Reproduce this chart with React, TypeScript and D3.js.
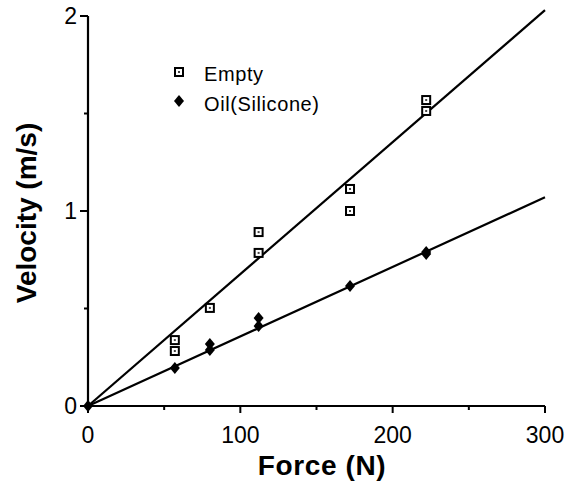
import React from "react";
import * as d3 from "d3";

const forceEmpty = [0, 57, 57, 80, 112, 112, 172, 172, 222, 222];
const velEmpty = [0, 0.338, 0.282, 0.503, 0.892, 0.785, 1.113, 1.0, 1.569, 1.513];
const forceOil = [0, 57, 80, 80, 112, 112, 172, 222, 222];
const velOil = [0, 0.195, 0.318, 0.287, 0.451, 0.41, 0.615, 0.79, 0.78];
const fitEmptyX = [0, 300];
const fitEmptyY = [0, 2.03];
const fitOilX = [0, 300];
const fitOilY = [0, 1.07];
const xMajor = [0, 100, 200, 300];
const xMinor = [50, 150, 250];
const yMajor = [0, 1, 2];
const yMinor = [0.5, 1.5];

export default function App() {
  const x = d3.scaleLinear().domain([0, 300]).range([88, 545]);
  const y = d3.scaleLinear().domain([0, 2]).range([406, 16]);
  const line = d3
    .line<[number, number]>()
    .x((d) => x(d[0]))
    .y((d) => y(d[1]));
  const fitE = line(fitEmptyX.map((v, i) => [v, fitEmptyY[i]] as [number, number]))!;
  const fitO = line(fitOilX.map((v, i) => [v, fitOilY[i]] as [number, number]))!;
  const font = "'Liberation Sans', Arial, Helvetica, sans-serif";

  const square = (cx: number, cy: number, key: any) => (
    <g key={key}>
      <rect x={cx - 4} y={cy - 4} width={8} height={8} fill="#fff" stroke="#000" strokeWidth={2} />
      <rect x={cx - 1} y={cy - 1} width={2} height={2} fill="#444" />
    </g>
  );
  const diamond = (cx: number, cy: number, key: any) => (
    <path
      key={key}
      d={`M${cx},${cy - 6}L${cx + 5},${cy}L${cx},${cy + 6}L${cx - 5},${cy}Z`}
      fill="#000"
    />
  );

  return (
    <svg
      width={566}
      height={484}
      style={{ position: "absolute", left: 0, top: 0, background: "#fff" }}
    >
      <rect width={566} height={484} fill="#fff" />
      <line x1={x(0)} x2={x(0)} y1={y(0)} y2={y(2)} stroke="#000" strokeWidth={2.2} />
      <line x1={x(0)} x2={x(300)} y1={y(0)} y2={y(0)} stroke="#000" strokeWidth={2.2} />
      {xMajor.map((v) => (
        <line key={"xM" + v} x1={x(v)} x2={x(v)} y1={y(0)} y2={y(0) + 7} stroke="#000" strokeWidth={2} />
      ))}
      {xMinor.map((v) => (
        <line key={"xm" + v} x1={x(v)} x2={x(v)} y1={y(0)} y2={y(0) + 4} stroke="#000" strokeWidth={2} />
      ))}
      {yMajor.map((v) => (
        <line key={"yM" + v} x1={x(0) - 8} x2={x(0)} y1={y(v)} y2={y(v)} stroke="#000" strokeWidth={2} />
      ))}
      {yMinor.map((v) => (
        <line key={"ym" + v} x1={x(0) - 4} x2={x(0)} y1={y(v)} y2={y(v)} stroke="#000" strokeWidth={2} />
      ))}
      {xMajor.map((v) => (
        <text key={"xl" + v} x={x(v)} y={443} fontSize={23} fontFamily={font} textAnchor="middle" fill="#000">
          {v}
        </text>
      ))}
      {yMajor.map((v) => (
        <text key={"yl" + v} x={77} y={y(v) + 8} fontSize={23} fontFamily={font} textAnchor="end" fill="#000">
          {v}
        </text>
      ))}
      <text x={322} y={475} fontSize={28} fontWeight="bold" fontFamily={font} textAnchor="middle" fill="#000" letterSpacing={0.6}>
        Force (N)
      </text>
      <text
        transform="translate(36,213) rotate(-90)"
        fontSize={28}
        fontWeight="bold"
        fontFamily={font}
        textAnchor="middle"
        fill="#000"
      >
        Velocity (m/s)
      </text>
      <path d={fitE} stroke="#000" strokeWidth={2.2} fill="none" />
      <path d={fitO} stroke="#000" strokeWidth={2.2} fill="none" />
      {forceOil.map((f, i) => diamond(x(f), y(velOil[i]), "o" + i))}
      {forceEmpty.map((f, i) => (i === 0 ? null : square(x(f), y(velEmpty[i]), "e" + i)))}
      {square(179, 72, "lg1")}
      {diamond(179, 101, "lg2")}
      <text x={204} y={81} fontSize={20} fontFamily={font} fill="#000" letterSpacing={0.6}>
        Empty
      </text>
      <text x={204} y={111} fontSize={20} fontFamily={font} fill="#000" letterSpacing={0.6}>
        Oil(Silicone)
      </text>
    </svg>
  );
}
